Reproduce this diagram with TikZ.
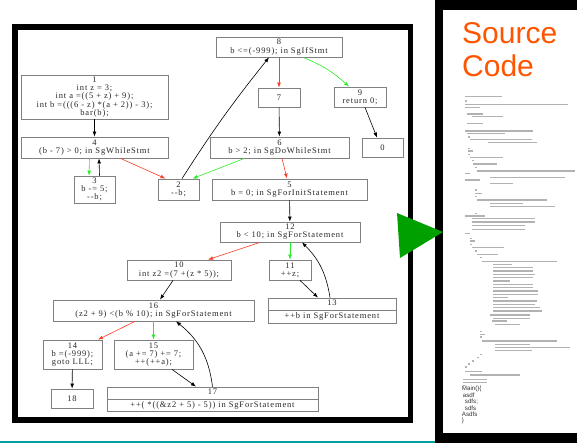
\documentclass[tikz,border=0pt]{standalone}
\usepackage{fontspec}
\setmainfont{Liberation Serif}
\newfontfamily\dotfont[LetterSpace=10]{Liberation Serif}
\newfontfamily\slidefont{Liberation Sans}
\usetikzlibrary{arrows.meta}
\usetikzlibrary{positioning,calc}
\definecolor{falsered}{RGB}{250,62,40}
\definecolor{truegreen}{RGB}{40,236,40}
\definecolor{arrowgreen}{RGB}{0,160,0}
\definecolor{titleorange}{RGB}{255,85,0}
\definecolor{rule}{RGB}{0,160,160}

\begin{document}
\begin{tikzpicture}[x=1pt,y=-1pt,
   stmt/.style = {draw=gray, line width=0.8pt, inner sep=0pt, align=center,
      text=black!85, font=\dotfont\fontsize{8.5}{8.2}\selectfont},
   box/.style 2 args = {minimum width=#1pt, minimum height=#2pt},
   flow/.style = {line width=0.6pt, -{Latex[length=5pt,width=3.8pt]}},
   falseflow/.style = {flow, falsered},
   trueflow/.style = {flow, truegreen},
   codeline/.style = {line width=1.1pt, black!30}
]
   \useasboundingbox (0,0) rectangle (577,443);

   % slide panels
   \fill[rule] (0,440.5) rectangle (435,443);
   \fill[black] (435,0) rectangle (577,443);
   \fill[white] (443,10) rectangle (577,433);
   \draw[line width=5.5pt] (14.75,27) rectangle (410.25,420);

   % control flow graph
   \node[stmt, box={126}{20}] (s8) at (279,47) {8\\b <=(-999); in SgIfStmt};
   \node[stmt, box={147}{44}] (s1) at (94.5,97)
      {1\\int z = 3;\\int a =((5 + z) + 9);\\int b =(((6 - z) *(a + 2)) - 3);\\bar(b);};
   \node[stmt, box={42}{19}] (s7) at (279,97.5) {7};
   \node[stmt, box={52}{20}] (s9) at (360,97) {9\\return 0;};
   \node[stmt, box={41}{19}] (s0) at (382.5,147.5) {0};
   \node[stmt, box={147}{21}] (s4) at (94.5,147.5) {4\\(b - 7) > 0; in SgWhileStmt};
   \node[stmt, box={139}{21}] (s6) at (279.5,147.5) {6\\b > 2; in SgDoWhileStmt};
   \node[stmt, box={41}{27}] (s3) at (94.5,189.5) {3\\b -= 5;\\-{}-b;};
   \node[stmt, box={41}{21}] (s2) at (178.5,189.5) {2\\-{}-b;};
   \node[stmt, box={155}{21}] (s5) at (289.5,189.5) {5\\b = 0; in SgForInitStatement};
   \node[stmt, box={140}{20}] (s12) at (290,232) {12\\b < 10; in SgForStatement};
   \node[stmt, box={104}{20}] (s10) at (179,270) {10\\int z2 =(7 +(z * 5));};
   \node[stmt, box={42}{20}] (s11) at (290,270) {11\\++z;};
   \node[stmt, box={128}{25}] (s13) at (332,310.5) {13\\[4.8pt]++b in SgForStatement};
   \node[stmt, box={201}{21}] (s16) at (153.5,310.5) {16\\(z2 + 9) <(b \% 10); in SgForStatement};
   \node[stmt, box={59}{29}] (s14) at (72.5,354.5) {14\\b =(-999);\\goto LLL;};
   \node[stmt, box={79}{29}] (s15) at (153.5,354.5) {15\\(a += 7) += 7;\\++(++a);};
   \node[stmt, box={42}{19}] (s18) at (72,398.5) {18};
   \node[stmt, box={211}{24}] (s17) at (212.5,399)
      {17\\[4.8pt]++( *((\&z2 + 5) - 5)) in SgForStatement};
   \draw[draw=gray, line width=0.8pt] (s13.west) -- (s13.east);
   \draw[draw=gray, line width=0.8pt] (s17.west) -- (s17.east);

   \draw[flow] (s1) -- (s4);
   \draw[trueflow] ([xshift=-5pt]s4.south) -- ([xshift=-5.5pt]s3.north);
   \draw[flow] ([xshift=5pt]s3.north) -- ([xshift=4.5pt]s4.south);
   \draw[falseflow] ([xshift=26pt]s4.south) -- ([xshift=-13pt]s2.north);
   \draw[trueflow] ([xshift=-35pt]s6.south) -- ([xshift=14pt]s2.north);
   \draw[flow] ([xshift=3.5pt]s2.north) to[bend left=3] ([xshift=-10pt]s8.south);
   \draw[falseflow] (s8) -- (s7);
   \draw[trueflow] ([xshift=24pt]s8.south) to[bend left=10] ([xshift=-11pt]s9.north);
   \draw[flow] (s7) -- (s6);
   \draw[flow] ([xshift=5pt]s9.south) -- ([xshift=-5.5pt]s0.north);
   \draw[falseflow] ([xshift=2.5pt]s6.south) -- ([xshift=-2.5pt]s5.north);
   \draw[flow] (s5) -- (s12);
   \draw[falseflow] ([xshift=-30pt]s12.south) -- ([xshift=29pt]s10.north);
   \draw[trueflow] (s12) -- (s11);
   \draw[flow] ([xshift=10pt]s11.south) -- ([xshift=-14pt]s13.north);
   \draw[flow] ([xshift=-2pt]s13.north) to[bend right=18] ([xshift=12pt]s12.south);
   \draw[flow] ([xshift=-6pt]s10.south) -- ([xshift=6.5pt]s16.north);
   \draw[falseflow] ([xshift=-18.5pt]s16.south) -- ([xshift=25.5pt]s14.north);
   \draw[trueflow] (s16) -- (s15);
   \draw[flow] ([xshift=18.5pt]s15.south) -- ([xshift=-16.5pt]s17.north);
   \draw[flow] ([xshift=0pt]s17.north) to[bend right=22] ([xshift=22.5pt]s16.south);
   \draw[flow] (s14) -- (s18);

   % source code panel
   \node[anchor=base west, inner sep=0pt, text=titleorange,
      font=\slidefont\fontsize{30}{30}\selectfont] (title1) at (462,44) {Source};
   \node[anchor=base west, inner sep=0pt, text=titleorange,
      font=\slidefont\fontsize{30}{30}\selectfont] (title2) at (462,76.5) {Code};
   \foreach \y/\a/\b in {96.7/465/501.7, 101/465/467, 104.3/465/568, 107.3/465/480,
      114/466.7/483.3, 116.7/471.7/503.3, 123.3/466.7/483.3, 131/465/533,
      133.7/466.7/505, 137/468/470, 139.7/470/531.7, 142.7/488/536.7,
      148.3/468/470, 151/468/473, 154.3/468/470, 157.3/470/503.3,
      160.7/471.7/473.7, 164/473/496.7, 167.3/475/477, 171/476.7/575,
      173.7/465/470, 177.3/490/565, 180/465/480, 183.3/490/513,
      190/475/477, 193.3/475/481.7, 196.7/475/477, 200/476.7/546.7,
      203.3/490/523, 206.7/490/555, 213.3/475/477, 216/465/485,
      218.7/471.7/535, 222/471.7/535, 225.3/471.7/525, 229.3/471.7/525,
      233.3/465/470, 238.3/470/472, 241/470/475, 244.3/470/472,
      247.7/471.7/504.3, 251/475/477, 254.3/476.7/498.3, 257.7/480/482,
      261.7/481.7/556.7, 264.3/493.3/511.7, 267.7/493.3/533.3, 271/493.3/533.3,
      274.3/493.3/535, 277.7/493.3/533.3, 281/493.3/510, 284.3/493.3/533.3,
      287.7/493.3/533.3, 291/493.3/538.3, 294.3/493.3/538.3, 297.7/493.3/508.3,
      301/493.3/536.7, 304.3/493.3/535, 307.7/493.3/540, 311/493.3/541.7,
      315/490/530, 318.3/493.3/530, 321/491.7/506.7, 324.3/495/520,
      331.7/480/482, 334.3/480/485, 337/480/482, 341/481.7/556.7,
      344.3/495/530, 347.7/495/570, 350.3/495/531.7, 354.3/480/482,
      357.7/476.7/478.7, 361/471.7/473.7, 364/468.3/470.3, 367/465/467,
      371.7/465/481.7, 375/470/520, 379.7/463.3/486.7, 382.3/463.3/486.7,
      385.7/463.3/465.3}
      \draw[codeline] (\a,\y) -- (\b,\y);
   \node[anchor=north west, inner sep=0pt, align=left, text=black!80,
      font=\slidefont\fontsize{6.2}{6.4}\selectfont] (mainbody) at (461.7,386.3)
      {Main()\{\\\hspace*{1pt}asdf\\\hspace*{3pt}sdfs;\\\hspace*{3pt}sdfs\\Asdfs\\\}};

   % arrow between the panels
   \fill[arrowgreen] (397,213) -- (443,232) -- (400,258) -- cycle;
\end{tikzpicture}
\end{document}
